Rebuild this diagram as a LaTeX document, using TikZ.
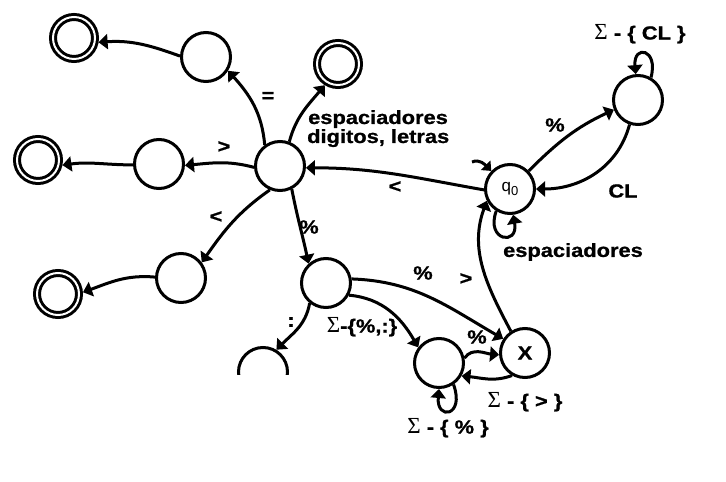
\documentclass[tikz,border=0pt]{standalone}
\usepackage{fontspec}
\setmainfont{Liberation Sans}
\newfontfamily\lblfont[FakeStretch=1.15,FakeBold=1]{Liberation Sans}
\newfontfamily\sigfont{Liberation Serif}
\newfontfamily\qfont{Liberation Sans}
\usetikzlibrary{arrows.meta}
\newcommand\mysig{{\sigfont\mdseries\fontsize{23}{23}\selectfont Σ}}
\begin{document}
\begin{tikzpicture}[x=1pt,y=1pt,
  state/.style={circle,draw,line width=3pt,minimum size=49pt,inner sep=0pt},
  final/.style={circle,draw,double,double distance=2pt,line width=3pt,minimum size=42pt,inner sep=0pt,outer sep=4pt},
  edge/.style={line width=3pt,-{Triangle[length=9pt,width=15pt]}},
  lbl/.style={font=\lblfont\bfseries\fontsize{19}{20}\selectfont,inner sep=0pt}]
\useasboundingbox (0,0) rectangle (726,482);
% nodes
\node[state] (C) at (280,316) {};
\node[state] (T) at (206,425) {};
\node[final] (TL) at (74,444) {};
\node[final] (TR) at (338,418) {};
\node[state] (L) at (159,318) {};
\node[final] (LF) at (38,322) {};
\node[state] (LL) at (181,204) {};
\node[final] (LLF) at (58,188) {};
\node[state] (P) at (326,199) {};
\begin{scope}
  \clip (220,107) rectangle (310,150);
  \node[state] (D) at (263,110) {};
\end{scope}
\node[state] (S) at (439,119) {};
\node[state,font=\lblfont\bfseries\fontsize{19}{20}\selectfont] (X) at (525,129) {X};
\node[state] (q0) at (510,293) {\qfont\fontsize{17}{17}\selectfont q\raisebox{-3.5pt}{\fontsize{13}{13}\selectfont 0}};
\node[state] (R) at (638,382) {};
\coordinate (init) at (472,320);
% edges
\draw[edge] (C.126) to[out=95,in=-48] (T.-32);
\draw[edge] (T.178) to[out=160,in=4] (TL.-10);
\draw[edge] (C.69) to[out=75,in=-130] (TR.-122);
\draw[edge] (C.183) to[out=165,in=5] (L.-3);
\draw[edge] (L.182) to[out=180,in=8] (LF.-12);
\draw[edge] (C.-113) to[out=215,in=55] (LL.37);
\draw[edge] (LL.178) to[out=175,in=20] (LLF.4);
\draw[edge] (C.-63) to[out=-79,in=102] (P.132);
\draw[edge] (P.-129) to[out=-100,in=45] (D.59);
\draw[edge] (q0.182) to[out=170,in=0] (C.-4);
\draw[edge] (q0.44) to[out=45,in=205] (R.202);
\draw[edge] (R.-109) to[out=-105,in=0] (q0.0);
\draw[edge] (R.60) .. controls +(75:30) and +(95:30) .. (R.95);
\draw[line width=3pt,-{Triangle[length=8pt,width=13pt]}] (init) to[out=25,in=135] (q0.136);
\draw[edge] (q0.-122) .. controls +(-110:32) and +(-80:32) .. (q0.-83);
\draw[edge] (X.123) to[out=118,in=-110] (q0.207);
\draw[edge] (P.9) to[out=-2,in=150] (X.147);
\draw[edge] (P.-28) to[out=-5,in=120] (S.143);
\draw[edge] (S.11) to[out=55,in=175] (X.184);
\draw[edge] (X.-120) to[out=200,in=-5] (S.-30);
\draw[edge] (S.-56) .. controls +(-70:34) and +(-95:32) .. (S.-90);
% labels
\node[lbl] (l1) at (268,385) {=};
\node[lbl] (l2) at (224,335) {>};
\node[lbl] (l3) at (216,265) {<};
\node[lbl] (l4) at (309,255) {\%};
\node[lbl] (l5) at (291,160) {:};
\node[lbl] (l6) at (395,295) {<};
\node[lbl] (l7) at (555,357) {\%};
\node[lbl] (l8) at (623,291) {CL};
\node[lbl] (l9) at (640,448) {\mysig\ - \{ CL \}};
\node[lbl] (l10) at (573,230) {espaciadores};
\node[lbl,anchor=base west] (l11) at (308,358) {espaciadores};
\node[lbl,anchor=base west] (l12) at (307,339) {digitos, letras};
\node[lbl] (l13) at (423,209) {\%};
\node[lbl] (l14) at (362,155) {\mysig-\{\%,:\}};
\node[lbl] (l15) at (477,145) {\%};
\node[lbl] (l16) at (525,80) {\mysig\ - \{ > \}};
\node[lbl] (l17) at (448,54) {\mysig\ - \{ \% \}};
\node[lbl] (l18) at (466,203) {>};
\end{tikzpicture}
\end{document}
